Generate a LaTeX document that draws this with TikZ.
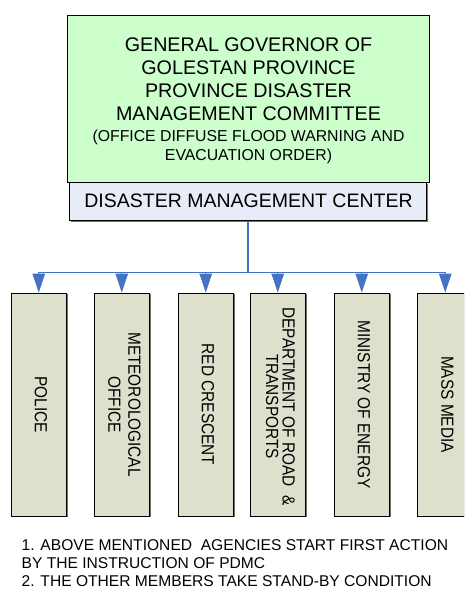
\documentclass[tikz,border=0pt]{standalone}
\usepackage{fontspec}
\setmainfont{Liberation Sans}
\usepackage{graphicx}
\usetikzlibrary{arrows.meta,shadows}
\definecolor{govgreen}{RGB}{204,255,204}
\definecolor{dmcblue}{RGB}{232,236,248}
\definecolor{agfill}{RGB}{221,224,204}
\definecolor{linkblue}{RGB}{68,114,196}
\newcommand{\vtext}[1]{\scalebox{1}[1.14]{\begin{tabular}{@{}c@{}}#1\end{tabular}}}
\begin{document}
\begin{tikzpicture}[x=1pt,y=-1pt,
  shad/.style={drop shadow={shadow xshift=1.3pt, shadow yshift=-1.3pt, fill=black!55, opacity=1}},
  govbox/.style={draw=black, line width=0.9pt, fill=govgreen, minimum width=362pt, minimum height=167pt, inner sep=0pt, shad},
  dmcbox/.style={draw=black, line width=0.9pt, fill=dmcblue, minimum width=357pt, minimum height=38.5pt, inner sep=0pt, shad},
  agbox/.style={draw=black, line width=0.9pt, fill=agfill, minimum width=55.5pt, minimum height=223pt, inner sep=0pt, shad},
  bigtxt/.style={anchor=base, inner sep=0pt, font=\fontsize{19.7}{23}\selectfont},
  smalltxt/.style={anchor=base, inner sep=0pt, font=\fontsize{15.8}{19}\selectfont},
  vlabel/.style={rotate=-90, inner sep=0pt, font=\fontsize{15.4}{17}\selectfont},
  note/.style={anchor=base west, inner sep=0pt, font=\fontsize{15.6}{18}\selectfont},
  busline/.style={draw=linkblue, line width=1.2pt},
  arr/.style={draw=linkblue, line width=1.2pt, -{Triangle[length=19pt,width=12.5pt]}}
]
\useasboundingbox (0,0) rectangle (464,591);
\clip (0,0) rectangle (464,591);

% top boxes
\node[dmcbox] (dmc) at (248,201.5) {};
\node[govbox] (gov) at (248,98.5) {};
\node[bigtxt] (g1) at (248.5,51.7) {GENERAL GOVERNOR OF};
\node[bigtxt] (g2) at (248.5,74.7) {GOLESTAN PROVINCE};
\node[bigtxt] (g3) at (248.5,97.7) {PROVINCE DISASTER};
\node[bigtxt] (g4) at (248.5,120.7) {MANAGEMENT COMMITTEE};
\node[smalltxt] (g5) at (248.5,141.7) {(OFFICE DIFFUSE FLOOD WARNING AND};
\node[smalltxt] (g6) at (248.5,160.7) {EVACUATION ORDER)};
\node[bigtxt, font=\fontsize{19.5}{23}\selectfont] (dmct) at (248.5,207.5) {DISASTER MANAGEMENT CENTER};

% agency boxes
\node[agbox] (b1) at (38.75,404.5) {};
\node[agbox] (b2) at (121.75,404.5) {};
\node[agbox] (b3) at (205.75,404.5) {};
\node[agbox] (b4) at (277.75,404.5) {};
\node[agbox] (b5) at (361.75,404.5) {};
\node[agbox] (b6) at (445.25,404.5) {};

\node[vlabel] (t1) at (b1.center) {\vtext{POLICE}};
\node[vlabel] (t2) at ([xshift=0.5pt]b2.center) {\vtext{METEOROLOGICAL\\[0.5pt] OFFICE}};
\node[vlabel] (t3) at (b3.center) {\vtext{RED CRESCENT}};
\node[vlabel] (t4) at ([xshift=0.5pt,yshift=-2pt]b4.center) {\vtext{DEPARTMENT OF ROAD\ \ \&\\[-2.5pt] TRANSPORTS}};
\node[vlabel] (t5) at (b5.center) {\vtext{MINISTRY OF ENERGY}};
\node[vlabel] (t6) at (b6.center) {\vtext{MASS MEDIA}};

% connectors
\coordinate (bus) at (248,272.5);
\draw[busline] (dmc.south) -- (bus);
\foreach \b in {b1,b2,b3,b4,b5,b6}
  \draw[arr] (bus) -| (\b.north);

% notes
\node[note] (n1) at (21.5,550) {1. ABOVE MENTIONED\ \ AGENCIES START FIRST ACTION};
\node[note] (n2) at (21.5,568.3) {BY THE INSTRUCTION OF PDMC};
\node[note] (n3) at (21.5,586.7) {2. THE OTHER MEMBERS TAKE STAND-BY CONDITION};
\end{tikzpicture}
\end{document}
